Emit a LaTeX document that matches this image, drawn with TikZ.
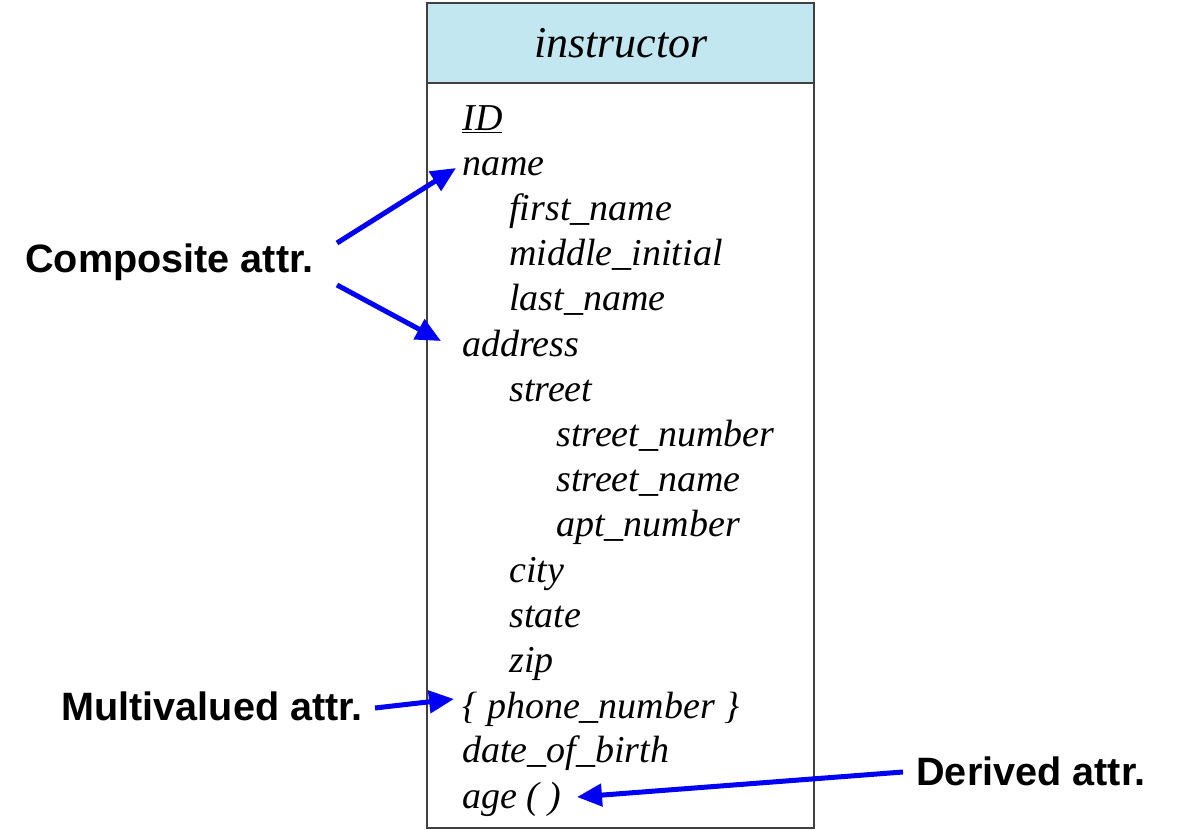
\documentclass[tikz,border=0pt]{standalone}
\usepackage{fontspec}
\newfontfamily\labfont{Liberation Sans}
\newfontfamily\attrfont{Liberation Serif}
\usetikzlibrary{arrows.meta}
\definecolor{hdrblue}{RGB}{194,231,240}
\definecolor{boxline}{RGB}{64,64,64}
\definecolor{arrblue}{RGB}{0,0,245}
\tikzset{
  attr/.style={anchor=base west, inner sep=0pt, font=\attrfont\itshape\fontsize{19}{19}\selectfont},
  lab/.style={anchor=base west, inner sep=0pt, font=\labfont\bfseries\fontsize{19.8}{19.8}\selectfont},
  arr/.style={draw=arrblue, line width=2.5pt, -{Triangle[length=12.5pt,width=11pt]}},
}
\begin{document}
\begin{tikzpicture}[x=0.5pt,y=-0.5pt]
\useasboundingbox (0,0) rectangle (1190,830);
% entity box
\fill[hdrblue] (427,3) rectangle (814,83);
\draw[boxline, line width=1pt] (427,3) rectangle (814,828);
\draw[boxline, line width=1pt] (427,83) -- (814,83);
\node[anchor=base, inner sep=0pt, font=\attrfont\itshape\fontsize{22}{22}\selectfont] (title) at (621,57) {instructor};
% attributes
\node[attr] (id) at (462,130.0) {\underline{ID}};
\node[attr] (name) at (462,175.2) {name};
\node[attr] (fn) at (509,220.4) {first\_name};
\node[attr] (mi) at (509,265.6) {middle\_initial};
\node[attr] (ln) at (509,310.8) {last\_name};
\node[attr] (addr) at (462,356.0) {address};
\node[attr] (street) at (509,401.2) {street};
\node[attr] (snum) at (556,446.4) {street\_number};
\node[attr] (sname) at (556,491.6) {street\_name};
\node[attr] (apt) at (556,536.8) {apt\_number};
\node[attr] (city) at (509,582.0) {city};
\node[attr] (state) at (509,627.2) {state};
\node[attr] (zip) at (509,672.4) {zip};
\node[attr] (phone) at (462,718.6) {\{ phone\_number \}};
\node[attr] (dob) at (462,762.8) {date\_of\_birth};
\node[attr] (age) at (462,808.0) {age ( )};
% labels
\node[lab] (comp) at (25,272) {Composite attr.};
\node[lab] (multi) at (61,720) {Multivalued attr.};
\node[lab] (deriv) at (916,785) {Derived attr.};
% arrow end points
\coordinate (c1s) at (337,243);
\coordinate (c1e) at (456,168);
\coordinate (c2s) at (337,285);
\coordinate (c2e) at (441,341);
\coordinate (m1s) at (375,708);
\coordinate (m1e) at (454,699);
\coordinate (d1s) at (903,772);
\coordinate (d1e) at (577,797);
\draw[arr] (c1s) -- (c1e);
\draw[arr] (c2s) -- (c2e);
\draw[arr] (m1s) -- (m1e);
\draw[arr] (d1s) -- (d1e);
\end{tikzpicture}
\end{document}
